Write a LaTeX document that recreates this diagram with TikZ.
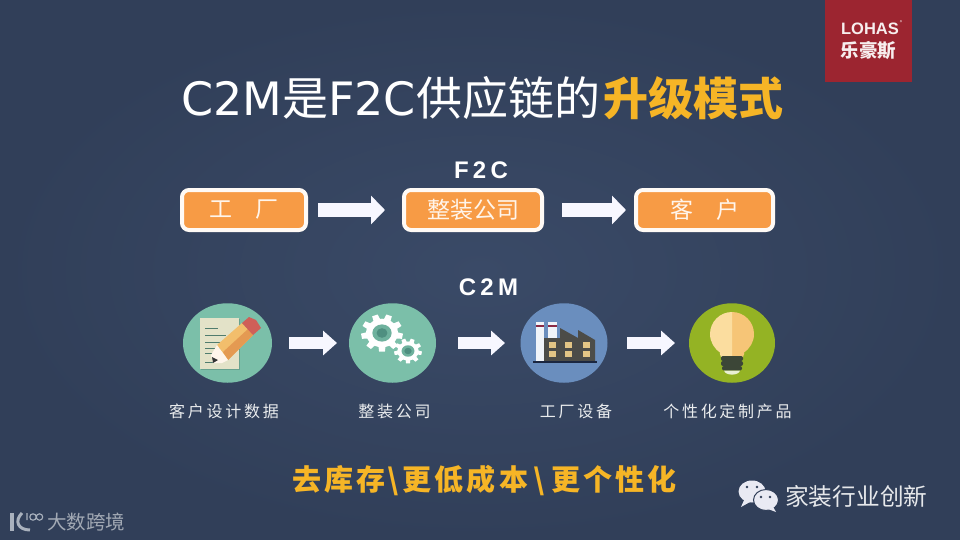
\documentclass[tikz,border=0pt]{standalone}
\usepackage{fontspec}
\usetikzlibrary{arrows.meta,shapes.geometric,shadows}
\setmainfont{Noto Sans CJK SC}
\newfontfamily\titlelatin{DejaVu Sans}
\newfontfamily\cjkspaced[LetterSpace=17]{Noto Sans CJK SC}
\newfontfamily\cjkwide[LetterSpace=11]{Noto Sans CJK SC}
\newfontfamily\latinwide[LetterSpace=18]{Liberation Sans}
\definecolor{bginner}{HTML}{3A4A67}
\definecolor{bgouter}{HTML}{313F59}
\definecolor{boxorange}{HTML}{F79B45}
\definecolor{gold}{HTML}{F6B526}
\definecolor{teal}{HTML}{7BBFA9}
\definecolor{tealdark}{HTML}{4F8F80}
\definecolor{steel}{HTML}{6A8EBE}
\definecolor{leaf}{HTML}{94B324}
\definecolor{brand}{HTML}{9C2530}
\definecolor{paper}{HTML}{E3E2C8}
\definecolor{pencilA}{HTML}{F2BE6C}
\definecolor{pencilB}{HTML}{E49A52}
\definecolor{eraser}{HTML}{CF5F58}
\definecolor{stripe}{HTML}{8A2A45}
\definecolor{works}{HTML}{4C4C48}
\definecolor{windowlit}{HTML}{E3C585}
\definecolor{ground}{HTML}{1B2740}
\definecolor{bulbA}{HTML}{F6C577}
\definecolor{bulbB}{HTML}{FBDD9F}
\definecolor{screwc}{HTML}{3C4637}
\definecolor{bubble}{HTML}{E9EAF3}
\definecolor{logoc}{HTML}{A9B1BD}
\tikzset{
  flowbox/.style={draw=white!96!orange,line width=4pt,fill=boxorange,rounded corners=7pt,minimum height=40pt,inner sep=0pt,
    font=\fontsize{23}{23}\selectfont,text=white!92!orange,drop shadow={shadow xshift=0.5pt,shadow yshift=-1.5pt,opacity=.35}},
  iconcircle/.style={ellipse,minimum width=87pt,minimum height=79.5pt,inner sep=0pt,outer sep=0pt},
  caption/.style={font=\cjkspaced\fontsize{16}{16}\selectfont,text=white!90!bgouter,inner sep=0pt},
  flowhead/.style={font=\latinwide\bfseries\fontsize{24}{24}\selectfont,text=white,inner sep=0pt},
  bigflow/.style={white!97!blue,line width=14pt,-{Triangle[length=14pt,width=28pt]}},
  smallflow/.style={white!97!blue,line width=12pt,-{Triangle[length=14pt,width=24pt]}},
}
\newcommand{\gearicon}[3]{% x y radius
  \foreach \a in {10,50,...,330} {
    \fill[white] ({#1+#3*.7*cos(\a-14)},{#2+.9*#3*.7*sin(\a-14)})
      -- ({#1+#3*cos(\a-8)},{#2+.9*#3*sin(\a-8)})
      -- ({#1+#3*cos(\a+8)},{#2+.9*#3*sin(\a+8)})
      -- ({#1+#3*.7*cos(\a+14)},{#2+.9*#3*.7*sin(\a+14)}) -- cycle;
  }
  \fill[white] (#1,#2) ellipse[x radius=#3*.76,y radius=#3*.68];
  \fill[teal!70!tealdark] (#1,#2) ellipse[x radius=#3*.46,y radius=#3*.41];
  \fill[tealdark] (#1,#2) ellipse[x radius=#3*.26,y radius=#3*.23];
}
\begin{document}
\begin{tikzpicture}[x=1pt,y=-1pt]
\useasboundingbox (0,0) rectangle (960,540);
\shade[inner color=bginner,outer color=bgouter] (0,0) rectangle (960,540);
% brand block
\fill[brand] (825,0) rectangle (912,82);
\node[font=\fontspec{Liberation Sans}\bfseries\fontsize{16.5}{16.5}\selectfont,text=white!92!brand,inner sep=0pt] (lohas) at (870,29) {LOHAS};
\node[font=\bfseries\fontsize{18.5}{18.5}\selectfont,text=white!92!brand,inner sep=0pt] (lohascn) at (868.5,51) {乐豪斯};
\node[font=\fontsize{5}{5}\selectfont,text=white!92!brand,inner sep=0pt] (lohasr) at (901,23) {®};
% title
\node[anchor=west,font=\fontsize{46}{46}\selectfont,text=white,inner sep=0pt] (title) at (181,98) {{\titlelatin C2M}是{\titlelatin F2C}供应链的};
\node[anchor=east,font=\bfseries\fontsize{45}{45}\selectfont,text=gold,inner sep=0pt] (titlegold) at (784,98) {升级模式};
% F2C
\node[flowhead] (f2chead) at (481,170) {F2C};
\node[flowbox,minimum width=124pt] (factory) at (244,210) {工\hspace{1em}厂};
\node[flowbox,minimum width=138pt] (assembler) at (473,210) {整装公司};
\node[flowbox,minimum width=137pt] (customer) at (704.5,210) {客\hspace{1em}户};
\draw[bigflow,shorten <=10pt,shorten >=17pt] (factory) -- (assembler);
\draw[bigflow,shorten <=18pt,shorten >=8pt] (assembler) -- (customer);
% C2M
\node[flowhead] (c2mhead) at (488.5,287) {C2M};
\node[iconcircle,fill=teal,minimum width=89pt] (design) at (227.5,343) {};
\node[iconcircle,fill=teal] (company) at (392.5,343) {};
\node[iconcircle,fill=steel] (plant) at (564,343) {};
\node[iconcircle,fill=leaf,minimum width=86pt] (product) at (732,343) {};
\draw[smallflow,shorten <=17pt,shorten >=12pt] (design) -- (company);
\draw[smallflow,shorten <=22pt,shorten >=15.5pt] (company) -- (plant);
\draw[smallflow,shorten <=19.5pt,shorten >=14pt] (plant) -- (product);
% note icon
\fill[black!30!teal,opacity=.5] (201,319) rectangle (240,370);
\fill[paper] (200,318) rectangle (239,369);
\foreach \ya/\xb in {328/218,335/226,342/224,348/220,353/216,362/214}
  \draw[black!35!teal,line width=.9pt] (205,\ya) -- (\xb,\ya);
\fill[pencilA] (217,345) -- (242,323) -- (253,335) -- (228,360) -- cycle;
\fill[pencilB] (223,352) -- (248,329) -- (253,335) -- (228,360) -- cycle;
\fill[eraser] (242,323) -- (249,317) -- (256,320) -- (261,328) -- (253,335) -- cycle;
\fill[white!92!orange] (217,345) -- (228,360) -- (222,363) -- (213,363) -- (211,355) -- cycle;
\fill[black!80] (212,357) -- (218,360) -- (213,363) -- cycle;
% gear icon
\gearicon{382}{333}{21}
\gearicon{408}{351}{14}
% factory icon
\fill[white!90!steel] (536,322) rectangle (544,362);
\fill[white!90!steel] (548,322) rectangle (557,340);
\fill[stripe] (536,325) rectangle (544,326.5);
\fill[stripe] (548,325) rectangle (557,326.5);
\fill[works] (544,362) -- (544,338) -- (560,338) -- (560,328) -- (578,338) -- (578,330) -- (595,340) -- (595,362) -- cycle;
\foreach \wx in {552,568,586} \foreach \wy in {345,354}
  \fill[windowlit] (\wx-3.5,\wy-3) rectangle (\wx+3.5,\wy+3);
\draw[ground,line width=2pt] (533,362) -- (597,362);
% bulb icon
\fill[bulbA] (732,312) arc[start angle=-90,end angle=60,radius=22] .. controls (746,352) and (743,355) .. (743,357) -- (732,357) -- cycle;
\fill[bulbB] (732,312) arc[start angle=270,end angle=120,radius=22] .. controls (718,352) and (721,355) .. (721,357) -- (732,357) -- cycle;
\fill[screwc,rounded corners=2pt] (721,356) rectangle (743,361);
\fill[screwc,rounded corners=2pt] (721,361) rectangle (743,366);
\fill[screwc,rounded corners=2pt] (722,366) rectangle (742,370.5);
\fill[white!80!leaf] (724,370.5) -- (740,370.5) .. controls (739,376) and (725,376) .. (724,370.5) -- cycle;
% captions
\node[caption] (cap1) at (224,411) {客户设计数据};
\node[caption] (cap2) at (394.5,411) {整装公司};
\node[caption] (cap3) at (576,411) {工厂设备};
\node[caption] (cap4) at (727.5,411) {个性化定制产品};
% slogan
\node[font=\cjkwide\bfseries\fontsize{29}{29}\selectfont,text=gold,inner sep=0pt] (slogan) at (484.5,481) {去库存\hspace{2pt}\textbackslash\hspace{4pt}更低成本\hspace{5pt}\textbackslash\hspace{7pt}更个性化};
% wechat
\fill[bubble] (741,507) -- (745,498) -- (750,502) -- cycle;
\fill[bubble] (752,491.5) ellipse[x radius=13.5,y radius=11];
\fill[bubble,draw=bgouter,line width=1pt] (766,500) ellipse[x radius=12.5,y radius=10.5];
\fill[bubble] (772,505) -- (776,512) -- (768,509) -- cycle;
\fill[bgouter] (747,487) circle[radius=1.4] (757,487) circle[radius=1.4] (761,497) circle[radius=1.3] (770,497) circle[radius=1.3];
\node[anchor=west,font=\fontsize{23.7}{24}\selectfont,text=white!88!bgouter,inner sep=0pt] (wechat) at (785,496) {家装行业创新};
% watermark
\draw[logoc,line width=3.4pt] (12,513) -- (12,531);
\draw[logoc,line width=3pt] (22,513) .. controls (14,521) and (18,530) .. (30,530);
\draw[logoc,line width=1.1pt] (27,513) -- (27,520) (33,517) circle[radius=3.2] (39.5,517) circle[radius=3.2];
\node[anchor=west,font=\fontsize{19.5}{20}\selectfont,text=white!55!bgouter,inner sep=0pt] (mark) at (47,522) {大数跨境};
\end{tikzpicture}
\end{document}
